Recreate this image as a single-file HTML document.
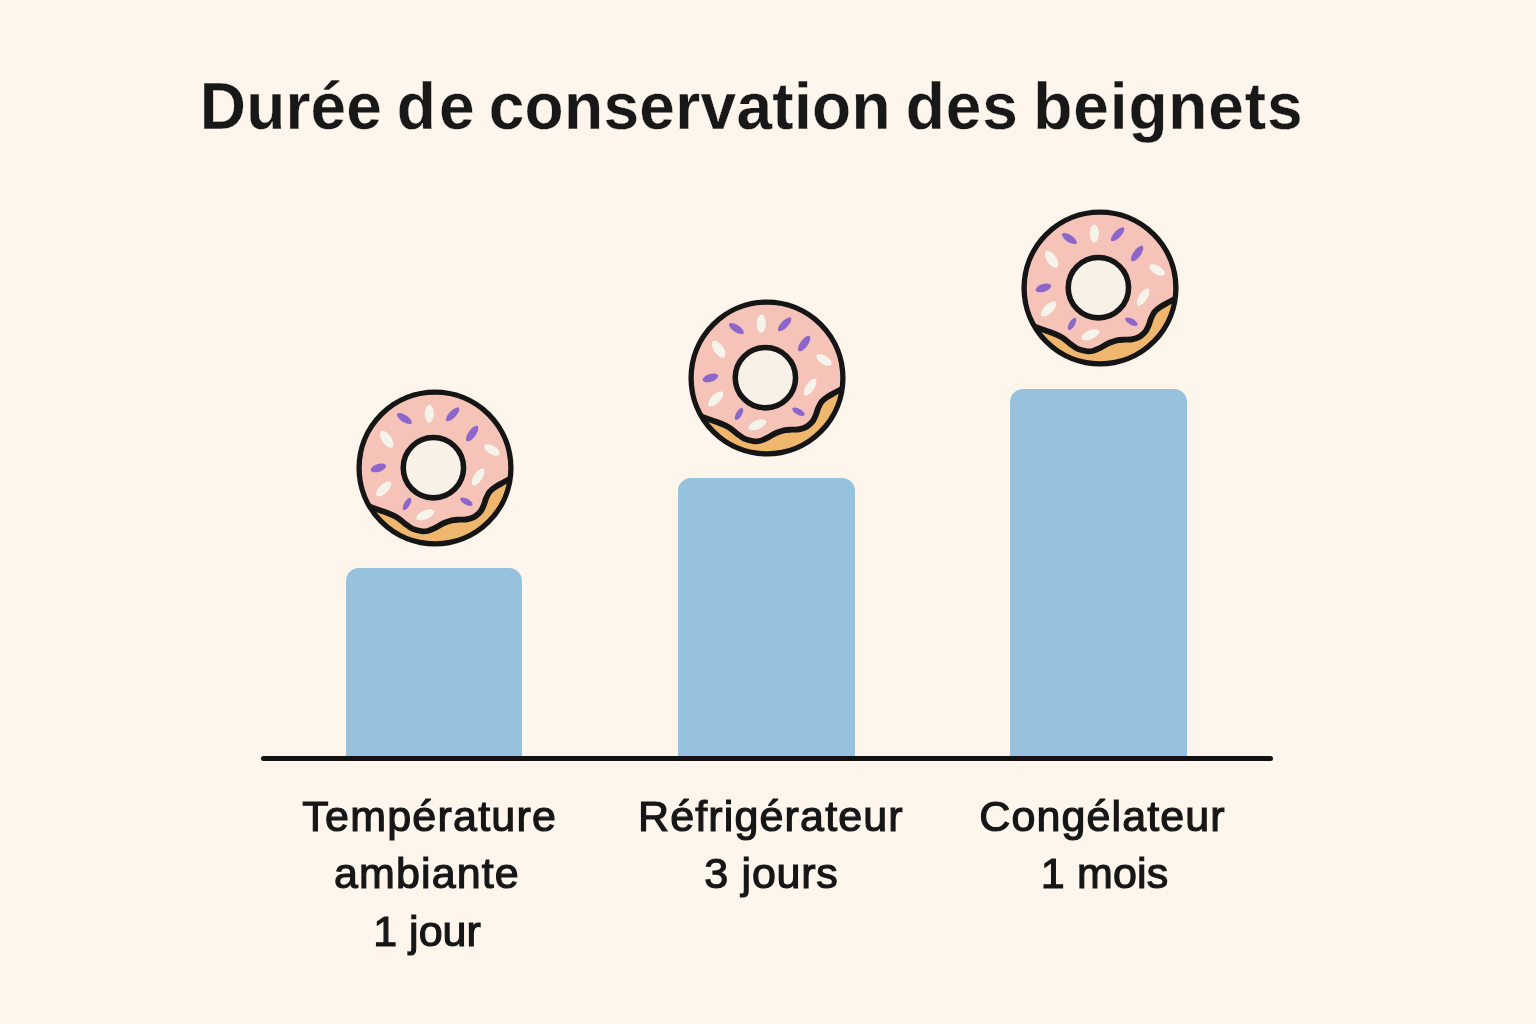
<!DOCTYPE html>
<html lang="fr">
<head>
<meta charset="utf-8">
<title>Durée de conservation des beignets</title>
<style>
html,body{margin:0;padding:0;}
body{width:1536px;height:1024px;overflow:hidden;background:#FEF5EC;font-family:"Liberation Sans",sans-serif;position:relative;color:#1a1a1a;}
#title{position:absolute;left:0;top:74.5px;width:1536px;height:64px;margin:0;font-size:64px;font-weight:bold;white-space:nowrap;line-height:64px;color:#181818;letter-spacing:0.1px;transform:scaleY(1.03);transform-origin:0 54.2px;-webkit-text-stroke:0.3px #FEF5EC;}
.tw{position:absolute;top:0;display:block;}
.bar{position:absolute;background:#96C2DD;border-radius:13px 13px 0 0;}
#axis{position:absolute;left:261px;top:755.8px;width:1012px;height:5px;border-radius:2.5px;background:#121212;}
.ln{position:absolute;display:block;font-size:43px;line-height:43px;white-space:nowrap;color:#161616;-webkit-text-stroke:1.2px #161616;}
svg.donut{position:absolute;width:170px;height:170px;overflow:visible;}
</style>
</head>
<body>
<h1 id="title"><span class="tw" style="left:199.76px;letter-spacing:0.178px">Durée</span> <span class="tw" style="left:396.74px;letter-spacing:3.281px">de</span> <span class="tw" style="left:488.68px;letter-spacing:0.323px">conservation</span> <span class="tw" style="left:905.80px;letter-spacing:0.939px">des</span> <span class="tw" style="left:1033.29px;letter-spacing:0.882px">beignets</span></h1>

<div class="bar" style="left:345.5px;top:568px;width:176.5px;height:190px;"></div>
<div class="bar" style="left:678px;top:478px;width:177.3px;height:280px;"></div>
<div class="bar" style="left:1010px;top:388.5px;width:177.2px;height:369.5px;"></div>
<div id="axis"></div>

<svg width="0" height="0" style="position:absolute">
<defs>
<clipPath id="dclip"><circle cx="0" cy="0" r="75.6"/></clipPath>
<g id="donut">
  <circle cx="0" cy="0" r="75.6" fill="#EFB76E"/>
  <g clip-path="url(#dclip)">
    <path d="M-69.00,37.00C-68.20,37.30 -66.03,38.13 -64.20,38.80C-62.37,39.47 -60.25,40.22 -58.00,41.00C-55.75,41.78 -53.87,42.25 -50.70,43.50C-47.53,44.75 -42.45,46.53 -39.00,48.50C-35.55,50.47 -32.80,53.27 -30.00,55.30C-27.20,57.33 -25.13,59.41 -22.20,60.70C-19.27,61.99 -15.00,62.75 -12.40,63.05C-9.80,63.35 -8.88,63.16 -6.60,62.50C-4.33,61.84 -1.35,60.38 1.25,59.10C3.85,57.82 6.39,55.97 9.00,54.80C11.61,53.63 14.28,52.65 16.90,52.10C19.52,51.55 22.35,51.63 24.70,51.50C27.05,51.37 29.12,51.53 31.00,51.30C32.88,51.07 34.33,50.75 36.00,50.10C37.67,49.45 39.38,48.62 41.00,47.40C42.62,46.18 44.43,44.55 45.70,42.80C46.97,41.05 47.72,39.05 48.60,36.90C49.48,34.75 50.02,32.13 51.00,29.90C51.98,27.67 52.95,25.35 54.50,23.50C56.05,21.65 58.15,20.27 60.30,18.80C62.45,17.33 65.15,15.93 67.40,14.70C69.65,13.47 71.70,12.42 73.80,11.40C75.90,10.38 78.97,9.07 80.00,8.60L120,-120L-120,-120Z" fill="#F5C3B8"/>
    <path d="M-69.00,37.00C-68.20,37.30 -66.03,38.13 -64.20,38.80C-62.37,39.47 -60.25,40.22 -58.00,41.00C-55.75,41.78 -53.87,42.25 -50.70,43.50C-47.53,44.75 -42.45,46.53 -39.00,48.50C-35.55,50.47 -32.80,53.27 -30.00,55.30C-27.20,57.33 -25.13,59.41 -22.20,60.70C-19.27,61.99 -15.00,62.75 -12.40,63.05C-9.80,63.35 -8.88,63.16 -6.60,62.50C-4.33,61.84 -1.35,60.38 1.25,59.10C3.85,57.82 6.39,55.97 9.00,54.80C11.61,53.63 14.28,52.65 16.90,52.10C19.52,51.55 22.35,51.63 24.70,51.50C27.05,51.37 29.12,51.53 31.00,51.30C32.88,51.07 34.33,50.75 36.00,50.10C37.67,49.45 39.38,48.62 41.00,47.40C42.62,46.18 44.43,44.55 45.70,42.80C46.97,41.05 47.72,39.05 48.60,36.90C49.48,34.75 50.02,32.13 51.00,29.90C51.98,27.67 52.95,25.35 54.50,23.50C56.05,21.65 58.15,20.27 60.30,18.80C62.45,17.33 65.15,15.93 67.40,14.70C69.65,13.47 71.70,12.42 73.80,11.40C75.90,10.38 78.97,9.07 80.00,8.60" fill="none" stroke="#151515" stroke-width="5.8" stroke-linecap="round" stroke-linejoin="round"/>
  </g>
  <circle cx="0" cy="0" r="75.6" fill="none" stroke="#151515" stroke-width="5.3"/>
  <circle cx="-1.6" cy="-0.3" r="30.05" fill="#F8F1E7" stroke="#151515" stroke-width="5.5"/>
<path transform="translate(-30.49 -49.21) rotate(33.5)" d="M-8.75,0C-7.00,-4.69 7.00,-4.69 8.75,0C7.00,4.69 -7.00,4.69 -8.75,0Z" fill="#8C66CB"/>
<path transform="translate(-5.71 -54.04) rotate(91.7)" d="M-9.14,0C-7.31,-6.09 7.31,-6.09 9.14,0C7.31,6.09 -7.31,6.09 -9.14,0Z" fill="#F6F3EA"/>
<path transform="translate(17.57 -53.43) rotate(-46.2)" d="M-9.14,0C-7.31,-4.69 7.31,-4.69 9.14,0C7.31,4.69 -7.31,4.69 -9.14,0Z" fill="#8C66CB"/>
<path transform="translate(36.99 -34.27) rotate(-54.1)" d="M-9.44,0C-7.55,-4.92 7.55,-4.92 9.44,0C7.55,4.92 -7.55,4.92 -9.44,0Z" fill="#8C66CB"/>
<path transform="translate(56.77 -18.01) rotate(31.2)" d="M-8.83,0C-7.06,-5.86 7.06,-5.86 8.83,0C7.06,5.86 -7.06,5.86 -8.83,0Z" fill="#F6F3EA"/>
<path transform="translate(42.97 9.05) rotate(-57.6)" d="M-9.99,0C-8.00,-5.62 8.00,-5.62 9.99,0C8.00,5.62 -8.00,5.62 -9.99,0Z" fill="#F6F3EA"/>
<path transform="translate(31.28 33.57) rotate(29.1)" d="M-7.04,0C-5.63,-3.98 5.63,-3.98 7.04,0C5.63,3.98 -5.63,3.98 -7.04,0Z" fill="#8C66CB"/>
<path transform="translate(-9.67 46.66) rotate(-23.3)" d="M-9.76,0C-7.81,-5.86 7.81,-5.86 9.76,0C7.81,5.86 -7.81,5.86 -9.76,0Z" fill="#F6F3EA"/>
<path transform="translate(-27.86 35.85) rotate(-59.3)" d="M-7.05,0C-5.64,-3.75 5.64,-3.75 7.05,0C5.64,3.75 -5.64,3.75 -7.05,0Z" fill="#8C66CB"/>
<path transform="translate(-51.14 20.83) rotate(-45.0)" d="M-9.94,0C-7.95,-6.09 7.95,-6.09 9.94,0C7.95,6.09 -7.95,6.09 -9.94,0Z" fill="#F6F3EA"/>
<path transform="translate(-56.41 -0.09) rotate(-17.7)" d="M-8.11,0C-6.49,-5.16 6.49,-5.16 8.11,0C6.49,5.16 -6.49,5.16 -8.11,0Z" fill="#8C66CB"/>
<path transform="translate(-48.15 -28.56) rotate(55.8)" d="M-9.99,0C-7.99,-6.33 7.99,-6.33 9.99,0C7.99,6.33 -7.99,6.33 -9.99,0Z" fill="#F6F3EA"/>
</g>
</defs>
</svg>

<svg class="donut" style="left:350.0px;top:383.2px" viewBox="-85 -85 170 170"><use href="#donut" transform="scale(1.004 1.004)"/></svg>
<svg class="donut" style="left:682.3px;top:293.2px" viewBox="-85 -85 170 170"><use href="#donut" transform="scale(1.004 1.004)"/></svg>
<svg class="donut" style="left:1014.6px;top:203.2px" viewBox="-85 -85 170 170"><use href="#donut" transform="scale(1.004 1.004)"/></svg>

<span class="ln" style="left:302.37px;top:795.40px;letter-spacing:1.214px">Température</span>
<span class="ln" style="left:333.96px;top:852.40px;letter-spacing:1.123px">ambiante</span>
<span class="ln" style="left:373.23px;top:910.10px;letter-spacing:0.010px">1 jour</span>
<span class="ln" style="left:637.96px;top:795.40px;letter-spacing:1.149px">Réfrigérateur</span>
<span class="ln" style="left:704.25px;top:852.40px;letter-spacing:0.737px">3 jours</span>
<span class="ln" style="left:979.30px;top:795.40px;letter-spacing:1.107px">Congélateur</span>
<span class="ln" style="left:1040.86px;top:852.40px;letter-spacing:0.141px">1 mois</span>
</body>
</html>
